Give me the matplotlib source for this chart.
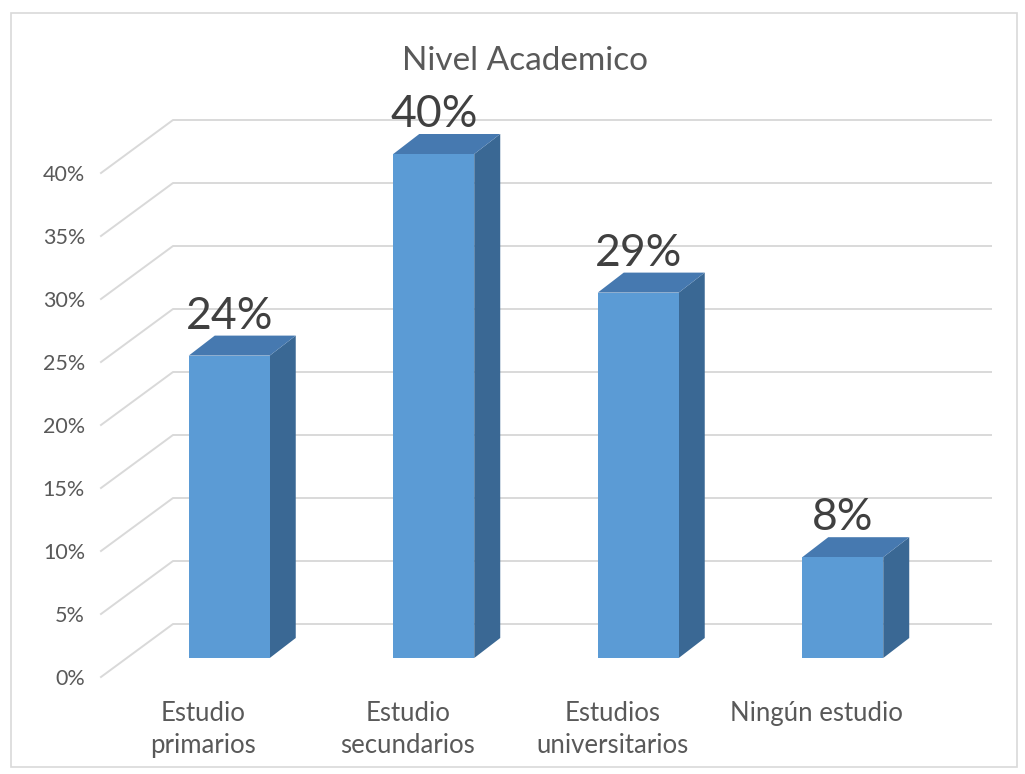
import matplotlib
matplotlib.use("Agg")
import matplotlib.pyplot as plt
from matplotlib.patches import Polygon, Rectangle
from matplotlib.lines import Line2D
from matplotlib.transforms import IdentityTransform
import numpy as np

plt.rcParams['font.family'] = ['Lato', 'DejaVu Sans']

categories = ["Estudio\nprimarios", "Estudio\nsecundarios",
              "Estudios\nuniversitarios", "Ningún estudio"]
values = [24, 40, 29, 8]
yticks = [0, 5, 10, 15, 20, 25, 30, 35, 40]
title = "Nivel Academico"

# colores estilo Excel
c_front = "#5b9bd5"
c_top = "#4679b0"
c_side = "#3a6894"
c_grid = "#d9d9d9"
c_text = "#595959"

W, H = 1025, 774
fig = plt.figure(figsize=(W / 100, H / 100), dpi=100)
fig.patch.set_facecolor("white")

# borde del gráfico
fig.patches.append(Rectangle((11 / W, 7 / H), 1006 / W, 754 / H,
                             transform=fig.transFigure, fill=False,
                             edgecolor=c_grid, linewidth=1.2))

# el plano delantero del eje (pared frontal)
ax = fig.add_axes([101 / W, 97 / H, 818 / W, 504 / H])
ax.set_xlim(-0.5, 3.5)
ax.set_ylim(0, 40)
for s in ax.spines.values():
    s.set_visible(False)
ax.patch.set_alpha(0)

# desplazamientos de profundidad en pixeles (x, y)
bar_front = np.array([26, 19])
bar_back = np.array([52, 39])
wall_back = np.array([72, 53])

def px(x, y, off=(0, 0)):
    p = ax.transData.transform((x, y))
    return p + np.asarray(off)

# líneas de la cuadrícula: diagonal en la pared izquierda y horizontal al fondo
for v in yticks:
    p0 = px(-0.5, v)
    p1 = px(-0.5, v, wall_back)
    p2 = px(3.5, v, wall_back)
    ax.add_line(Line2D([p0[0], p1[0], p2[0]], [p0[1], p1[1], p2[1]],
                       transform=IdentityTransform(), color=c_grid,
                       linewidth=1.4, clip_on=False, zorder=1))

bw = 0.396
for i, v in enumerate(values):
    x0, x1 = i - bw / 2, i + bw / 2
    # cara lateral
    side = [px(x1, 0, bar_front), px(x1, 0, bar_back),
            px(x1, v, bar_back), px(x1, v, bar_front)]
    # cara superior
    top = [px(x0, v, bar_front), px(x1, v, bar_front),
           px(x1, v, bar_back), px(x0, v, bar_back)]
    # cara frontal
    front = [px(x0, 0, bar_front), px(x1, 0, bar_front),
             px(x1, v, bar_front), px(x0, v, bar_front)]
    for verts, col in ((side, c_side), (top, c_top), (front, c_front)):
        ax.add_patch(Polygon(verts, closed=True, transform=IdentityTransform(),
                             facecolor=col, edgecolor="none", clip_on=False,
                             zorder=3))
    ax.annotate(f"{v}%", xy=(i, v), xytext=(26 * 0.72, 46 * 0.72),
                textcoords="offset points", ha="center", va="baseline",
                fontsize=32, color="#404040", zorder=5)

ax.set_yticks(yticks)
ax.set_yticklabels([f"{v}%" for v in yticks])
ax.set_xticks(range(len(categories)))
ax.set_xticklabels(categories, linespacing=1.35)
ax.tick_params(axis="y", length=0, pad=11.5, labelsize=15.5, labelcolor=c_text)
ax.tick_params(axis="x", length=0, pad=17, labelsize=18.5, labelcolor=c_text)

fig.text(525 / W, 1 - 70 / H, title, ha="center", va="baseline",
         fontsize=24, color=c_text)

fig.savefig("out.png", dpi=100)
